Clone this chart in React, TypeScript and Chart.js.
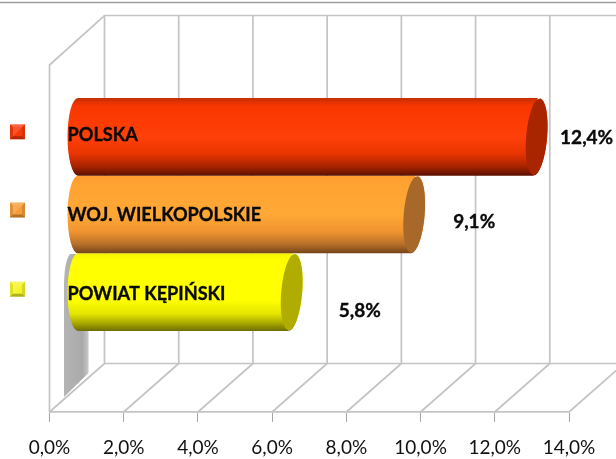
import React, { useEffect, useRef } from "react";
import { Chart, registerables } from "chart.js";

Chart.register(...registerables);

const categories = [""];
const seriesNames = ["POLSKA", "WOJ. WIELKOPOLSKIE", "POWIAT KĘPIŃSKI"];
const polskaValues = [12.4];
const wielkopolskieValues = [9.1];
const kepinskiValues = [5.8];
const valueLabels = ["12,4%", "9,1%", "5,8%"];

const FONT = "Lato, Carlito, sans-serif";
const CAT_PCT = 233 / 347;
const DEPTH_X = 55;
const DEPTH_Y = 48.5;
const BAR_DX = 28;
const BAR_DY = -24;
const CAP_RX = 10.5;
const CAP_TILT = 0.085;
const CAP_SHIFT = -1;
const NAME_SQUEEZE = 0.955;

// gradient stops and cap colour per series
const looks = [
  { base: "#f83a0a", cap: "#a82500", stops: [[0, "#c42f00"], [0.1, "#f83600"], [0.5, "#ff4008"], [0.72, "#e83400"], [0.88, "#a82400"], [1, "#5a1000"]] },
  { base: "#f59e38", cap: "#a8682a", stops: [[0, "#ff9c30"], [0.1, "#ffa232"], [0.5, "#ffa836"], [0.72, "#f09430"], [0.88, "#b87028"], [1, "#74441a"]] },
  { base: "#f4f428", cap: "#b0ac00", stops: [[0, "#f4f400"], [0.1, "#ffff00"], [0.6, "#ffff00"], [0.78, "#e4e400"], [0.9, "#a8a800"], [1, "#6e6e00"]] },
];
const labelShift = [
  { dx: 49, dy: 1.5 },
  { dx: 59, dy: 7.5 },
  { dx: 67, dy: 19 },
];
const nameShift = [-2, 0, 2];
const markerShift = [-12.5, -12, -10.5];

function paintFor(chart: any, i: number) {
  const looksI = looks[i];
  const ys = chart.scales.y;
  if (!ys || !chart.chartArea) return looksI.base;
  const full = ys.height * CAT_PCT;
  const h = full / 3;
  const top = ys.getPixelForValue(0) - full / 2 + i * h;
  const g = chart.ctx.createLinearGradient(0, top, 0, top + h);
  looksI.stops.forEach(([o, c]: any) => g.addColorStop(o, c));
  return g;
}

function marker(ctx: any, x: number, y: number, s: number, color: string) {
  const inset = 3;
  ctx.fillStyle = color;
  ctx.fillRect(x, y, s, s);
  const tri = (pts: number[][], fill: string) => {
    ctx.fillStyle = fill;
    ctx.beginPath();
    pts.forEach((p, k) => (k ? ctx.lineTo(p[0], p[1]) : ctx.moveTo(p[0], p[1])));
    ctx.closePath();
    ctx.fill();
  };
  const a = [x, y], b = [x + s, y], c = [x + s, y + s], d = [x, y + s];
  const e = [x + inset, y + inset], f = [x + s - inset, y + inset], g = [x + s - inset, y + s - inset], h = [x + inset, y + s - inset];
  tri([a, b, f, e], "rgba(255,255,255,0.22)");
  tri([d, c, g, h], "rgba(0,0,0,0.28)");
  tri([a, d, h, e], "rgba(0,0,0,0.08)");
  tri([b, c, g, f], "rgba(0,0,0,0.12)");
  tri([e, f, [x + s / 2, y + s / 2], h], "rgba(255,255,255,0.14)");
}

const scenePlugin = {
  id: "scene3d",
  beforeDatasetsDraw(chart: any) {
    const { ctx, scales, width, chartArea } = chart;
    const xs = scales.x;
    const { top, bottom } = chartArea;
    const x0 = xs.getPixelForValue(0);
    const backTop = top - DEPTH_Y - 1;
    const backBottom = bottom - DEPTH_Y;
    ctx.save();
    // outer frame line of the original picture
    ctx.strokeStyle = "#9e9e9e";
    ctx.lineWidth = 1.5;
    ctx.beginPath();
    ctx.moveTo(0, 2.5);
    ctx.lineTo(width, 2.5);
    ctx.stroke();

    ctx.strokeStyle = "#c4c4c4";
    ctx.lineWidth = 1.7;
    // walls
    ctx.beginPath();
    ctx.moveTo(x0, bottom);
    ctx.lineTo(x0, top);
    ctx.lineTo(x0 + DEPTH_X, backTop);
    ctx.lineTo(width, backTop);
    ctx.moveTo(x0 + DEPTH_X, backBottom);
    ctx.lineTo(width, backBottom);
    ctx.stroke();
    // grid per tick
    xs.ticks.forEach((t: any) => {
      const x = xs.getPixelForValue(t.value);
      ctx.beginPath();
      ctx.moveTo(x, bottom);
      ctx.lineTo(x + DEPTH_X, backBottom);
      ctx.lineTo(x + DEPTH_X, backTop);
      ctx.stroke();
    });

    // grey shadow behind the lowest bar
    const sx = x0 + 14.5;
    const w = 24.5;
    const sg = ctx.createLinearGradient(sx, 0, sx + w, 0);
    sg.addColorStop(0, "#b4b4b4");
    sg.addColorStop(0.75, "#aaaaaa");
    sg.addColorStop(1, "#c8c8c8");
    ctx.fillStyle = sg;
    ctx.beginPath();
    ctx.moveTo(sx, bottom - 15);
    ctx.lineTo(sx, bottom - 125);
    ctx.quadraticCurveTo(sx, bottom - 150, sx + 6, bottom - 158);
    ctx.lineTo(sx + w, bottom - 158);
    ctx.lineTo(sx + w, bottom - 39);
    ctx.closePath();
    ctx.fill();
    ctx.restore();

    // bars stand half way into the depth of the box
    ctx.save();
    ctx.translate(BAR_DX, BAR_DY);
  },
  beforeDatasetDraw(chart: any, args: any) {
    // the body of a bar ends along the tilted end face
    const { ctx } = chart;
    const { x, y, base, height } = args.meta.data[0].getProps(["x", "y", "base", "height"], true);
    const ry = height / 2;
    const lean = Math.sin(CAP_TILT) * ry;
    ctx.save();
    ctx.beginPath();
    ctx.moveTo(base - 1, y - ry - 1);
    ctx.lineTo(x + CAP_SHIFT + lean, y - ry - 1);
    ctx.lineTo(x + CAP_SHIFT - lean, y + ry + 1);
    ctx.lineTo(base - 1, y + ry + 1);
    ctx.closePath();
    ctx.clip();
  },
  afterDatasetDraw(chart: any) {
    chart.ctx.restore();
  },
  afterDatasetsDraw(chart: any) {
    const { ctx } = chart;
    ctx.restore();
    const metas = chart.getSortedVisibleDatasetMetas();
    const ordered = [...metas].sort((a: any, b: any) => b.index - a.index);
    ordered.forEach((meta: any) => {
      const i = meta.index;
      const el = meta.data[0];
      const { x, y, base, height } = el.getProps(["x", "y", "base", "height"], true);
      const cy = y + BAR_DY;
      const ry = height / 2;
      const right = x + BAR_DX + CAP_SHIFT;
      ctx.save();
      // rounded left end carries the same gradient
      ctx.save();
      ctx.translate(BAR_DX, BAR_DY);
      ctx.fillStyle = paintFor(chart, i);
      ctx.beginPath();
      ctx.ellipse(base, y, CAP_RX, ry, 0, Math.PI / 2, (Math.PI * 3) / 2);
      ctx.closePath();
      ctx.fill();
      ctx.beginPath();
      ctx.ellipse(x + CAP_SHIFT, y, CAP_RX, ry, CAP_TILT, -Math.PI / 2, Math.PI / 2);
      ctx.closePath();
      ctx.fill();
      ctx.restore();
      // dark end face
      ctx.fillStyle = looks[i].cap;
      ctx.beginPath();
      ctx.ellipse(right, cy, CAP_RX, ry - 0.5, CAP_TILT, 0, Math.PI * 2);
      ctx.fill();
      ctx.restore();
    });
    ordered.forEach((meta: any) => {
      const i = meta.index;
      const el = meta.data[0];
      const { x, y, base } = el.getProps(["x", "y", "base"], true);
      ctx.save();
      ctx.fillStyle = "#0a0a0a";
      ctx.strokeStyle = "#0a0a0a";
      ctx.lineWidth = 0.35;
      ctx.textBaseline = "middle";
      const nx = base + BAR_DX - 10.5;
      const ny = y + BAR_DY + nameShift[i];
      ctx.save();
      ctx.font = `bold 19px ${FONT}`;
      ctx.textAlign = "left";
      ctx.translate(nx, ny);
      ctx.scale(NAME_SQUEEZE, 1);
      ctx.fillText(chart.data.datasets[i].label, 0, 0);
      ctx.strokeText(chart.data.datasets[i].label, 0, 0);
      ctx.restore();
      ctx.textAlign = "center";
      ctx.font = `bold 19px ${FONT}`;
      const vx = x + BAR_DX + labelShift[i].dx;
      const vy = y + BAR_DY + labelShift[i].dy;
      ctx.fillText(valueLabels[i], vx, vy);
      ctx.strokeText(valueLabels[i], vx, vy);
      // legend marker, without text as in the original
      marker(ctx, 10, y + BAR_DY + markerShift[i], 15, looks[i].base);
      ctx.restore();
    });
  },
};

export default function App() {
  const ref = useRef<HTMLCanvasElement | null>(null);
  useEffect(() => {
    const chart = new Chart(ref.current as HTMLCanvasElement, {
      type: "bar",
      data: {
        labels: categories,
        datasets: [
          { label: seriesNames[0], data: polskaValues, backgroundColor: (c: any) => paintFor(c.chart, 0) },
          { label: seriesNames[1], data: wielkopolskieValues, backgroundColor: (c: any) => paintFor(c.chart, 1) },
          { label: seriesNames[2], data: kepinskiValues, backgroundColor: (c: any) => paintFor(c.chart, 2) },
        ],
      },
      options: {
        indexAxis: "y",
        responsive: false,
        animation: false,
        layout: { padding: { left: 49.5, right: 47, top: 65, bottom: 0 } },
        datasets: { bar: { categoryPercentage: CAT_PCT, barPercentage: 1, borderWidth: 0 } },
        plugins: { legend: { display: false }, tooltip: { enabled: false }, title: { display: false } },
        scales: {
          x: {
            min: 0,
            max: 14,
            afterFit: (s: any) => {
              s.height = 47;
            },
            border: { display: true, color: "#c4c4c4", width: 1.7 },
            grid: { drawOnChartArea: false, drawTicks: true, tickLength: 10, color: "#a8a8a8", lineWidth: 1 },
            ticks: {
              stepSize: 2,
              maxRotation: 0,
              autoSkip: false,
              padding: 14,
              color: "#111111",
              font: { family: FONT, size: 19 },
              callback: (v: any) => Number(v).toFixed(1).replace(".", ",") + "%",
            },
          },
          y: { display: false },
        },
      } as any,
      plugins: [scenePlugin],
    } as any);
    return () => chart.destroy();
  }, []);
  return (
    <div style={{ position: "absolute", left: 0, top: 0, background: "#fff" }}>
      <canvas ref={ref} width={616} height={459} style={{ display: "block" }} />
    </div>
  );
}
